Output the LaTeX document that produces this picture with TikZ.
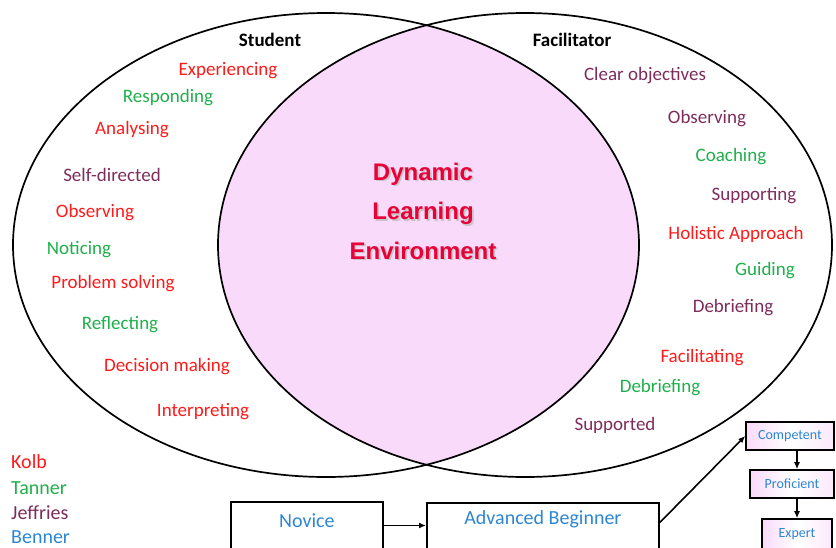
\documentclass[tikz,border=0pt]{standalone}
\usepackage{fontspec}
\setmainfont{Carlito}
\newfontfamily\dlefont{Liberation Sans}
\usetikzlibrary{arrows.meta,positioning}
\definecolor{KolbRed}{HTML}{FF1A1A}
\definecolor{TannerGreen}{HTML}{1FAF4B}
\definecolor{JeffriesPlum}{HTML}{7D2C5C}
\definecolor{BennerBlue}{HTML}{2C86D1}
\definecolor{OverlapPink}{HTML}{FADAFA}
\definecolor{DleRed}{HTML}{E8003A}

\begin{document}
\begin{tikzpicture}[x=1pt,y=-1pt,
    lbl/.style={font=\fontsize{19}{22}\selectfont},
    ttl/.style={font=\fontsize{19}{22}\selectfont\bfseries},
    legend/.style={font=\fontsize{20}{24}\selectfont, anchor=west, inner sep=0pt},
    dle/.style={font=\dlefont\fontsize{24}{39.5}\selectfont\bfseries, align=center},
    stagebox/.style={draw, line width=1.8pt, text=BennerBlue, font=\fontsize{20}{24}\selectfont,
      anchor=north west, text height=14pt, text depth=60pt, inner ysep=10pt},
    levelbox/.style={draw, line width=1.6pt, text=BennerBlue, font=\fontsize{14}{16}\selectfont,
      left color=OverlapPink, right color=OverlapPink!60, middle color=white, minimum height=28pt},
    flow/.style={-{Latex[length=7pt,width=6pt]}, line width=1.6pt}]
  \useasboundingbox (0,0) rectangle (836,547);
  \clip (0,0) rectangle (836,547);

  % overlap of the two ellipses
  \begin{scope}
    \clip (326,245) ellipse [x radius=313pt, y radius=232pt];
    \fill[OverlapPink] (525,245) ellipse [x radius=307pt, y radius=232pt];
  \end{scope}
  \draw[line width=1.7pt] (326,245) ellipse [x radius=313pt, y radius=232pt];
  \draw[line width=1.7pt] (525,245) ellipse [x radius=307pt, y radius=232pt];

  \node[ttl] (student) at (270,40) {Student};
  \node[ttl] (facil) at (572,40) {Facilitator};

  % student side
  \foreach \t/\x/\y/\c [count=\i] in {Experiencing/228/71/KolbRed, Responding/168/98/TannerGreen,
      Analysing/132/130/KolbRed, Self-directed/112/175/JeffriesPlum, Observing/95/213/KolbRed,
      Noticing/79/250/TannerGreen, Problem solving/113/284/KolbRed, Reflecting/120/325/TannerGreen,
      Decision making/167/367/KolbRed, Interpreting/203/412/KolbRed}
    \node[lbl, text=\c] (s\i) at (\x,\y) {\t};

  % facilitator side
  \foreach \t/\x/\y/\c [count=\i] in {Clear objectives/645/76/JeffriesPlum, Observing/707/119/JeffriesPlum,
      Coaching/731/157/TannerGreen, Supporting/754/196/JeffriesPlum, Holistic Approach/736/234/KolbRed,
      Guiding/765/271/TannerGreen, Debriefing/733/308/JeffriesPlum, Facilitating/702/358/KolbRed,
      Debriefing/660/388/TannerGreen, Supported/615/425/JeffriesPlum}
    \node[lbl, text=\c] (f\i) at (\x,\y) {\t};

  \node[dle, text=gray!45] (dle-shadow) at (424.8,212.5) {Dynamic\\Learning\\Environment};
  \node[dle, text=DleRed] (dle) at (423,211) {Dynamic\\Learning\\Environment};

  % legend
  \node[legend, text=KolbRed] (kolb) at (11,462) {Kolb};
  \node[legend, text=TannerGreen] (tanner) at (11,488) {Tanner};
  \node[legend, text=JeffriesPlum] (jeffries) at (11,513) {Jeffries};
  \node[legend, text=BennerBlue] (benner) at (11,537) {Benner};

  % Benner stages
  \node[stagebox, minimum width=152pt, inner ysep=12pt] (novice) at (230,501) {Novice};
  \node[stagebox, minimum width=232pt, inner ysep=8pt] (adv) at (426,502) {Advanced Beginner};
  \node[levelbox, minimum width=88pt] (comp) at (790,436) {Competent};
  \node[levelbox, minimum width=84pt] (prof) at (792,484) {Proficient};
  \node[levelbox, minimum width=70pt, minimum height=30pt] (expert) at (797,534) {Expert};

  \draw[flow] (novice.mid east) -- (novice.mid east -| adv.west);
  \draw[flow] (adv.mid east) -- (comp.west);
  \draw[flow] (comp.south -| expert.north) -- (prof.north -| expert.north);
  \draw[flow] (prof.south -| expert.north) -- (expert.north);
\end{tikzpicture}
\end{document}
